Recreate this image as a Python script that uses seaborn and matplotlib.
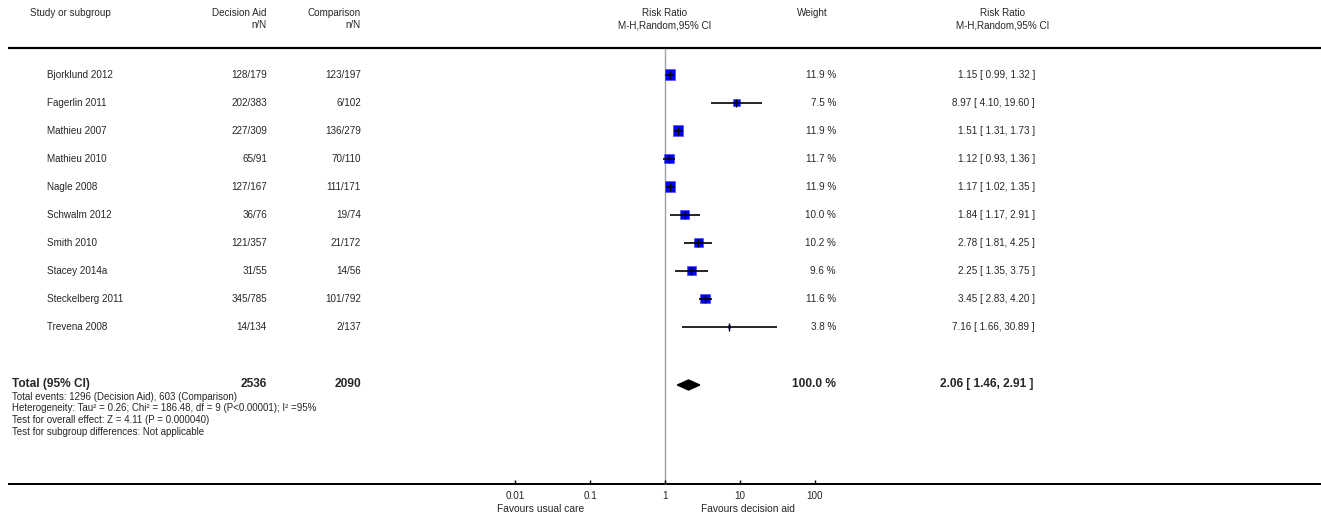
import numpy as np
import pandas as pd
import matplotlib
matplotlib.use("Agg")
import matplotlib.pyplot as plt
import seaborn as sns

# ---------------- data ----------------
studies = ["Bjorklund 2012", "Fagerlin 2011", "Mathieu 2007", "Mathieu 2010",
           "Nagle 2008", "Schwalm 2012", "Smith 2010", "Stacey 2014a",
           "Steckelberg 2011", "Trevena 2008"]
da_events = ["128/179", "202/383", "227/309", "65/91", "127/167", "36/76",
             "121/357", "31/55", "345/785", "14/134"]
comp_events = ["123/197", "6/102", "136/279", "70/110", "111/171", "19/74",
               "21/172", "14/56", "101/792", "2/137"]
weights = [11.9, 7.5, 11.9, 11.7, 11.9, 10.0, 10.2, 9.6, 11.6, 3.8]
rr = [1.15, 8.97, 1.51, 1.12, 1.17, 1.84, 2.78, 2.25, 3.45, 7.16]
rr_lo = [0.99, 4.10, 1.31, 0.93, 1.02, 1.17, 1.81, 1.35, 2.83, 1.66]
rr_hi = [1.32, 19.60, 1.73, 1.36, 1.35, 2.91, 4.25, 3.75, 4.20, 30.89]

total_da = "2536"
total_comp = "2090"
total_weight = 100.0
total_rr, total_lo, total_hi = 2.06, 1.46, 2.91

footnotes = ["Total events: 1296 (Decision Aid), 603 (Comparison)",
             "Heterogeneity: Tau\u00b2 = 0.26; Chi\u00b2 = 186.48, df = 9 (P<0.00001); I\u00b2 =95%",
             "Test for overall effect: Z = 4.11 (P = 0.000040)",
             "Test for subgroup differences: Not applicable"]
tick_values = [0.01, 0.1, 1, 10, 100]
tick_labels = ["0.01", "0.1", "1", "10", "100"]

# ---------------- layout ----------------
W, H = 1321, 521
sns.set_theme(style="white")
plt.rcParams["font.family"] = ["Liberation Sans", "DejaVu Sans"]

fig = plt.figure(figsize=(W / 100, H / 100), dpi=100)
# text layer in pixel coordinates
tax = fig.add_axes([0, 0, 1, 1])
tax.set_xlim(0, W)
tax.set_ylim(H, 0)
tax.axis("off")
# forest layer: log scale, x=1 at px 665, 75 px per decade
x_one, dec = 665.0, 75.0
fax = fig.add_axes([0, 0, 1, 1], sharey=tax)
fax.set_xscale("log")
fax.set_xlim(10 ** (-x_one / dec), 10 ** ((W - x_one) / dec))
fax.patch.set_alpha(0)
fax.axis("off")

row0, dy = 74.5, 28.0
ypos = [row0 + i * dy for i in range(len(studies))]
y_total = 385.0

df = pd.DataFrame({"study": studies, "rr": rr, "lo": rr_lo, "hi": rr_hi,
                   "w": weights, "y": ypos})

fs = 7.1
fsb = 8.6
hdr1, hdr2 = 13, 25

# headers
tax.text(30, hdr1, "Study or subgroup", fontsize=fs, va="center", ha="left")
tax.text(267, hdr1, "Decision Aid", fontsize=fs, va="center", ha="right")
tax.text(267, hdr2, "n/N", fontsize=fs, va="center", ha="right")
tax.text(361, hdr1, "Comparison", fontsize=fs, va="center", ha="right")
tax.text(361, hdr2, "n/N", fontsize=fs, va="center", ha="right")
tax.text(665, hdr1, "Risk Ratio", fontsize=fs, va="center", ha="center")
tax.text(665, hdr2, "M-H,Random,95% CI", fontsize=fs, va="center", ha="center")
tax.text(812, hdr1, "Weight", fontsize=fs, va="center", ha="center")
tax.text(1003, hdr1, "Risk Ratio", fontsize=fs, va="center", ha="center")
tax.text(1003, hdr2, "M-H,Random,95% CI", fontsize=fs, va="center", ha="center")
tax.plot([8, W], [47.5, 47.5], color="black", lw=1.6, solid_capstyle="butt")

# study rows
for i, r in df.iterrows():
    y = r["y"]
    tax.text(47, y, r["study"], fontsize=fs, va="center", ha="left")
    tax.text(267, y, da_events[i], fontsize=fs, va="center", ha="right")
    tax.text(361, y, comp_events[i], fontsize=fs, va="center", ha="right")
    tax.text(836, y, f"{r['w']:.1f} %", fontsize=fs, va="center", ha="right")
    tax.text(1035, y, f"{r['rr']:.2f} [ {r['lo']:.2f}, {r['hi']:.2f} ]",
             fontsize=fs, va="center", ha="right")

# reference line at 1
fax.plot([1, 1], [49, 484], color="#a0a0a0", lw=1.0, zorder=1)

# squares scaled by weight
sns.scatterplot(data=df, x="rr", y="y", size="w", sizes=(3, 52),
                size_norm=(3.8, 11.9), marker="s", color="#0000ff",
                edgecolor="#5050ff", linewidth=0.5, legend=False, ax=fax, zorder=3)
fax.axis("off")
# CI lines and point ticks
fax.hlines(df["y"], df["lo"], df["hi"], color="black", lw=1.2, zorder=4)
fax.vlines(df["rr"], df["y"] - 4, df["y"] + 4, color="black", lw=1.0, zorder=4)

# total diamond
fax.fill([total_lo, total_rr, total_hi, total_rr],
         [y_total, y_total - 5, y_total, y_total + 5], color="black", zorder=4)
tax.text(12, y_total - 1, "Total (95% CI)", fontsize=fsb, fontweight="bold",
         va="center", ha="left")
tax.text(267, y_total - 1, total_da, fontsize=fsb, fontweight="bold", va="center", ha="right")
tax.text(361, y_total - 1, total_comp, fontsize=fsb, fontweight="bold", va="center", ha="right")
tax.text(836, y_total - 1, f"{total_weight:.1f} %", fontsize=fsb, fontweight="bold",
         va="center", ha="right")
tax.text(1033, y_total - 1, f"{total_rr:.2f} [ {total_lo:.2f}, {total_hi:.2f} ]",
         fontsize=fsb, fontweight="bold", va="center", ha="right")

for k, line in enumerate(footnotes):
    tax.text(12, 396.5 + k * 11.7, line, fontsize=7.0, va="center", ha="left")

# bottom axis
tax.plot([8, W], [484, 484], color="black", lw=1.4, solid_capstyle="butt")
fax.vlines(tick_values, 480, 484, color="black", lw=1.0)
for v, lab in zip(tick_values, tick_labels):
    fax.text(v, 496, lab, fontsize=fs, va="center", ha="center")
fax.text(10 ** (-1.66), 509, "Favours usual care", fontsize=fs + 0.3, va="center", ha="center")
fax.text(10 ** (1.1), 509, "Favours decision aid", fontsize=fs + 0.3, va="center", ha="center")

fig.savefig("out.png", dpi=100, facecolor="white")
